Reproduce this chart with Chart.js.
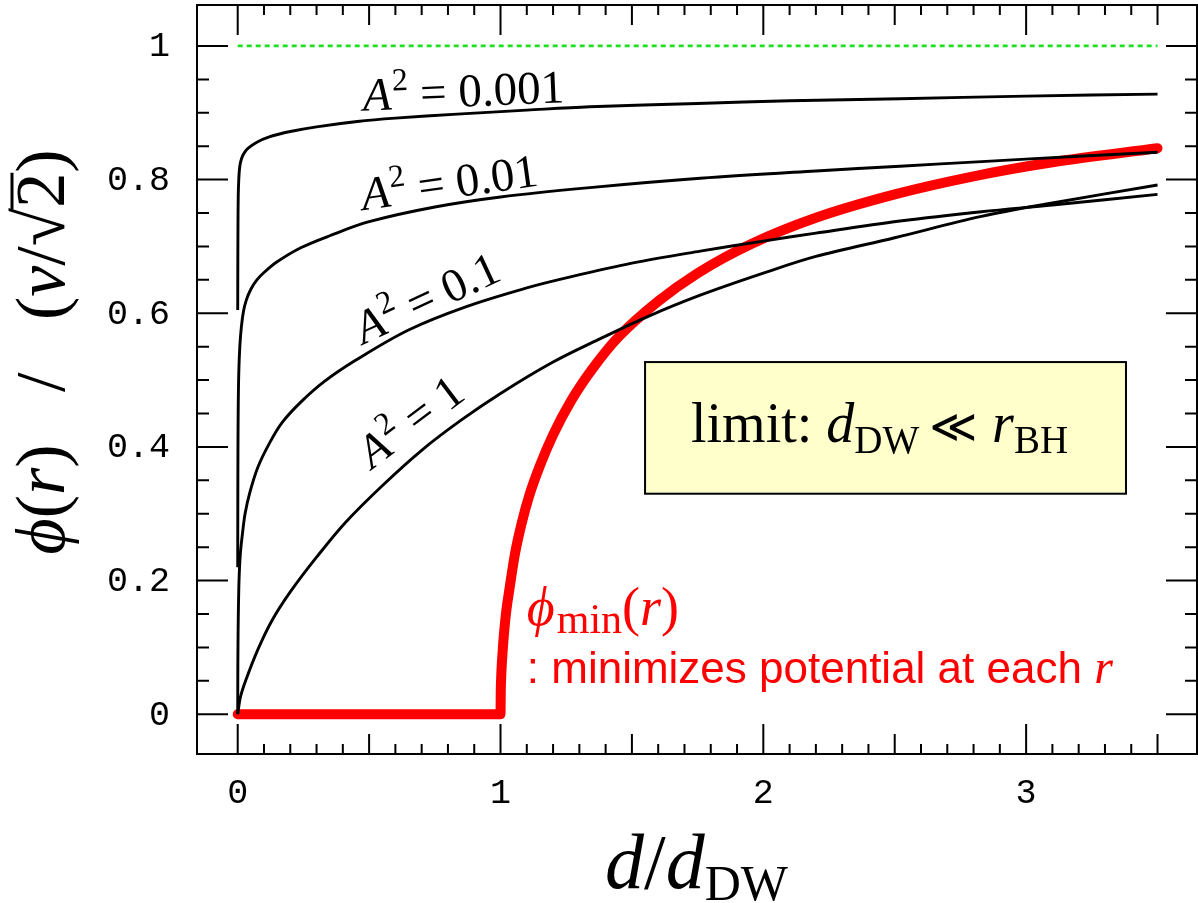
<!DOCTYPE html>
<html>
<head>
<meta charset="utf-8">
<script src="https://cdn.jsdelivr.net/npm/chart.js@4.4.0/dist/chart.umd.min.js"></script>
<style>
  html, body { margin: 0; padding: 0; background: #fff; }
  canvas { display: block; }
</style>
</head>
<body>
<canvas id="chart" width="1198" height="903"></canvas>
<script>
// phi(r) / (v/sqrt2) against d/d_DW
const dA0001 = [0, 0.0005, 0.001, 0.002, 0.004, 0.008, 0.015, 0.025, 0.04, 0.073, 0.12, 0.2, 0.3, 0.455, 0.6, 0.835, 1.1, 1.34, 1.75, 2.1, 2.52, 3.0, 3.5];
const pA0001 = [0.605, 0.68, 0.73, 0.775, 0.80, 0.82, 0.832, 0.84, 0.847, 0.856, 0.864, 0.872, 0.879, 0.887, 0.892, 0.898, 0.904, 0.909, 0.914, 0.918, 0.921, 0.925, 0.928];

const dA001 = [0, 0.0005, 0.001, 0.002, 0.004, 0.008, 0.014, 0.022, 0.033, 0.05, 0.073, 0.1, 0.15, 0.24, 0.35, 0.5, 0.75, 1.0, 1.34, 1.76, 2.2, 2.52, 2.83, 3.2, 3.5];
const pA001 = [0.22, 0.33, 0.40, 0.46, 0.51, 0.55, 0.58, 0.603, 0.62, 0.636, 0.65, 0.661, 0.677, 0.698, 0.716, 0.737, 0.759, 0.774, 0.788, 0.802, 0.813, 0.82, 0.827, 0.835, 0.841];

const dA01 = [0, 0.0005, 0.001, 0.002, 0.005, 0.01, 0.018, 0.028, 0.047, 0.077, 0.12, 0.168, 0.24, 0.33, 0.45, 0.65, 0.87, 1.1, 1.25, 1.5, 1.76, 2.0, 2.2, 2.52, 2.83, 3.1, 3.5];
const pA01 = [0, 0.07, 0.1, 0.14, 0.2, 0.24, 0.27, 0.3, 0.333, 0.37, 0.405, 0.436, 0.467, 0.498, 0.53, 0.575, 0.61, 0.638, 0.653, 0.675, 0.693, 0.708, 0.72, 0.738, 0.752, 0.762, 0.778];

const dA1 = [0, 0.01, 0.03, 0.077, 0.13, 0.2, 0.3, 0.41, 0.55, 0.7, 0.85, 1.0, 1.2, 1.38, 1.56, 1.76, 2.0, 2.2, 2.5, 2.83, 3.1, 3.5];
const pA1 = [0, 0.025, 0.05, 0.097, 0.14, 0.183, 0.235, 0.287, 0.342, 0.395, 0.44, 0.48, 0.527, 0.562, 0.595, 0.627, 0.66, 0.685, 0.713, 0.745, 0.765, 0.792];

const dMin = [0, 0.99, 1, 1.001, 1.003, 1.006, 1.01, 1.02, 1.035, 1.055, 1.08, 1.11, 1.15, 1.2, 1.27, 1.35, 1.45, 1.6, 1.75, 1.95, 2.2, 2.5, 2.8, 3.1, 3.5];
const pMin = [0, 0, 0, 0.035, 0.06, 0.082, 0.105, 0.148, 0.19, 0.24, 0.285, 0.328, 0.372, 0.418, 0.47, 0.517, 0.565, 0.618, 0.66, 0.703, 0.743, 0.778, 0.805, 0.826, 0.847];

const dVac = [0, 3.5];
const pVac = [1, 1];

const xTickValues = [0, 1, 2, 3];
const xTickLabels = ['0', '1', '2', '3'];
const yTickValues = [0, 0.2, 0.4, 0.6, 0.8, 1];
const yTickLabels = ['0', '0.2', '0.4', '0.6', '0.8', '1'];

const SERIF = '"Liberation Serif", "Times New Roman", serif';
const SANS = '"Liberation Sans", Arial, sans-serif';
const MONO = '"Liberation Mono", "Courier New", monospace';

function pts(xs, ys) {
    return xs.map((x, i) => ({ x: x, y: ys[i] }));
}

function blackCurve(label, xs, ys) {
    return {
        label: label,
        data: pts(xs, ys),
        showLine: true,
        borderColor: '#000',
        borderWidth: 2.9,
        pointRadius: 0,
        tension: 0.35,
        order: 1
    };
}

// draw a run of text pieces along a (possibly rotated) baseline
function drawParts(ctx, parts, x, y, angle, color, align) {
    ctx.save();
    ctx.translate(x, y);
    ctx.rotate(angle || 0);
    ctx.textBaseline = 'alphabetic';
    ctx.textAlign = 'left';
    let total = 0;
    parts.forEach(p => {
        ctx.font = p.font;
        p.w = ctx.measureText(p.t).width;
        total += p.w + (p.gap || 0);
    });
    let cx = align === 'center' ? -total / 2 : 0;
    parts.forEach(p => {
        ctx.font = p.font;
        ctx.fillStyle = color;
        ctx.fillText(p.t, cx, p.dy || 0);
        if (p.over) {
            ctx.strokeStyle = color;
            ctx.lineWidth = p.over.w;
            ctx.beginPath();
            ctx.moveTo(cx - 2, p.over.y);
            ctx.lineTo(cx + p.w, p.over.y);
            ctx.stroke();
        }
        cx += p.w + (p.gap || 0);
    });
    ctx.restore();
}

function a2Label(value) {
    return [
        { t: 'A', font: 'italic 47px ' + SERIF, gap: 1 },
        { t: '2', font: '32px ' + SERIF, dy: -19 },
        { t: ' = ' + value, font: '47px ' + SERIF }
    ];
}

// label anchors in data units, angles in degrees
const curveLabels = [
    { text: '0.001', d: 0.478, p: 0.903, angle: -2.4 },
    { text: '0.01', d: 0.478, p: 0.754, angle: -8 },
    { text: '0.1', d: 0.478, p: 0.553, angle: -25 },
    { text: '1', d: 0.511, p: 0.366, angle: -37 }
];

const decor = {
    id: 'decor',
    afterDraw(chart) {
        const ctx = chart.ctx;
        const a = chart.chartArea;
        const xs = chart.scales.x;
        const ys = chart.scales.y;
        ctx.save();

        // note box
        const bx0 = xs.getPixelForValue(1.55), bx1 = xs.getPixelForValue(3.38);
        const by0 = ys.getPixelForValue(0.527), by1 = ys.getPixelForValue(0.33);
        ctx.fillStyle = '#ffffcc';
        ctx.fillRect(bx0, by0, bx1 - bx0, by1 - by0);
        ctx.strokeStyle = '#000';
        ctx.lineWidth = 2;
        ctx.strokeRect(bx0, by0, bx1 - bx0, by1 - by0);
        drawParts(ctx, [
            { t: 'limit: ', font: '56px ' + SERIF },
            { t: 'd', font: 'italic 56px ' + SERIF },
            { t: 'DW', font: '39px ' + SERIF, dy: 11, gap: 10 },
            { t: '\u226A ', font: '46px "DejaVu Sans", ' + SERIF },
            { t: 'r', font: 'italic 56px ' + SERIF },
            { t: 'BH', font: '39px ' + SERIF, dy: 11 }
        ], (bx0 + bx1) / 2 - 6, ys.getPixelForValue(0.407), 0, '#000', 'center');

        // frame
        ctx.strokeStyle = '#000';
        ctx.lineWidth = 2;
        ctx.strokeRect(a.left, a.top, a.right - a.left, a.bottom - a.top);

        // inward ticks on all four sides
        ctx.lineWidth = 2;
        ctx.beginPath();
        for (let i = 0; i <= 35; i++) {
            const px = xs.getPixelForValue(i / 10);
            const len = i % 10 === 0 ? 30 : (i % 5 === 0 ? 20 : 10);
            ctx.moveTo(px, a.bottom); ctx.lineTo(px, a.bottom - len);
            ctx.moveTo(px, a.top); ctx.lineTo(px, a.top + len);
        }
        for (let i = 0; i <= 20; i++) {
            const py = ys.getPixelForValue(i / 20);
            const len = i % 4 === 0 ? 31 : 12;
            ctx.moveTo(a.left, py); ctx.lineTo(a.left + len, py);
            ctx.moveTo(a.right, py); ctx.lineTo(a.right - len, py);
        }
        ctx.stroke();

        // tick labels
        ctx.fillStyle = '#000';
        ctx.font = '35px ' + MONO;
        ctx.textAlign = 'center';
        ctx.textBaseline = 'middle';
        xTickValues.forEach((v, i) => {
            ctx.fillText(xTickLabels[i], xs.getPixelForValue(v), 794);
        });
        ctx.textAlign = 'right';
        yTickValues.forEach((v, i) => {
            ctx.fillText(yTickLabels[i], 170, ys.getPixelForValue(v) + 1);
        });

        // curve labels
        curveLabels.forEach(l => {
            drawParts(ctx, a2Label(l.text), xs.getPixelForValue(l.d), ys.getPixelForValue(l.p),
                l.angle * Math.PI / 180, '#000');
        });

        // phi_min annotation
        const rx = xs.getPixelForValue(1.1);
        drawParts(ctx, [
            { t: '\u03D5', font: 'italic 54px ' + SERIF, gap: 2 },
            { t: 'min', font: '42px ' + SERIF, dy: 8 },
            { t: '(', font: '54px ' + SERIF },
            { t: 'r', font: 'italic 54px ' + SERIF },
            { t: ')', font: '54px ' + SERIF }
        ], rx, 625, 0, '#ff0000');
        drawParts(ctx, [
            { t: ': minimizes potential at each ', font: '44px ' + SANS },
            { t: 'r', font: 'italic 48px ' + SERIF }
        ], rx, 683, 0, '#ff0000');

        // axis titles
        drawParts(ctx, [
            { t: 'd', font: 'italic 78px ' + SERIF },
            { t: '/', font: '78px ' + SERIF },
            { t: 'd', font: 'italic 78px ' + SERIF },
            { t: 'DW', font: '50px ' + SERIF, dy: 12 }
        ], 605, 888, 0, '#000');

        drawParts(ctx, [
            { t: '\u03D5', font: 'italic 70px ' + SERIF },
            { t: '(', font: '70px ' + SERIF },
            { t: 'r', font: 'italic 70px ' + SERIF },
            { t: ')', font: '70px ' + SERIF },
            { t: '   /   ', font: '70px ' + SERIF },
            { t: '(', font: '70px ' + SERIF },
            { t: 'v', font: 'italic 70px ' + SERIF },
            { t: '/', font: '70px ' + SERIF },
            { t: '\u221A', font: '70px ' + SERIF },
            { t: '2', font: '70px ' + SERIF, over: { y: -52, w: 3 } },
            { t: ')', font: '70px ' + SERIF }
        ], 64, 352, -Math.PI / 2, '#000', 'center');

        ctx.restore();
    }
};

const chart = new Chart(document.getElementById('chart').getContext('2d'), {
    type: 'scatter',
    data: {
        datasets: [
            {
                label: 'vacuum',
                data: pts(dVac, pVac),
                showLine: true,
                borderColor: '#1ee01e',
                borderWidth: 2.7,
                borderDash: [5, 4],
                pointRadius: 0,
                order: 2
            },
            blackCurve('A2 = 0.001', dA0001, pA0001),
            blackCurve('A2 = 0.01', dA001, pA001),
            blackCurve('A2 = 0.1', dA01, pA01),
            blackCurve('A2 = 1', dA1, pA1),
            {
                label: 'phi_min',
                data: pts(dMin, pMin),
                showLine: true,
                borderColor: '#ff0000',
                borderWidth: 10,
                borderCapStyle: 'round',
                borderJoinStyle: 'round',
                cubicInterpolationMode: 'monotone',
                pointRadius: 0,
                order: 10
            }
        ]
    },
    options: {
        responsive: false,
        animation: false,
        layout: { padding: { left: 197, right: 1, top: 5, bottom: 149 } },
        plugins: {
            legend: { display: false },
            tooltip: { enabled: false }
        },
        scales: {
            x: { type: 'linear', min: -0.1549, max: 3.6502, display: false },
            y: { type: 'linear', min: -0.0595, max: 1.0613, display: false }
        }
    },
    plugins: [decor]
});
</script>
</body>
</html>
